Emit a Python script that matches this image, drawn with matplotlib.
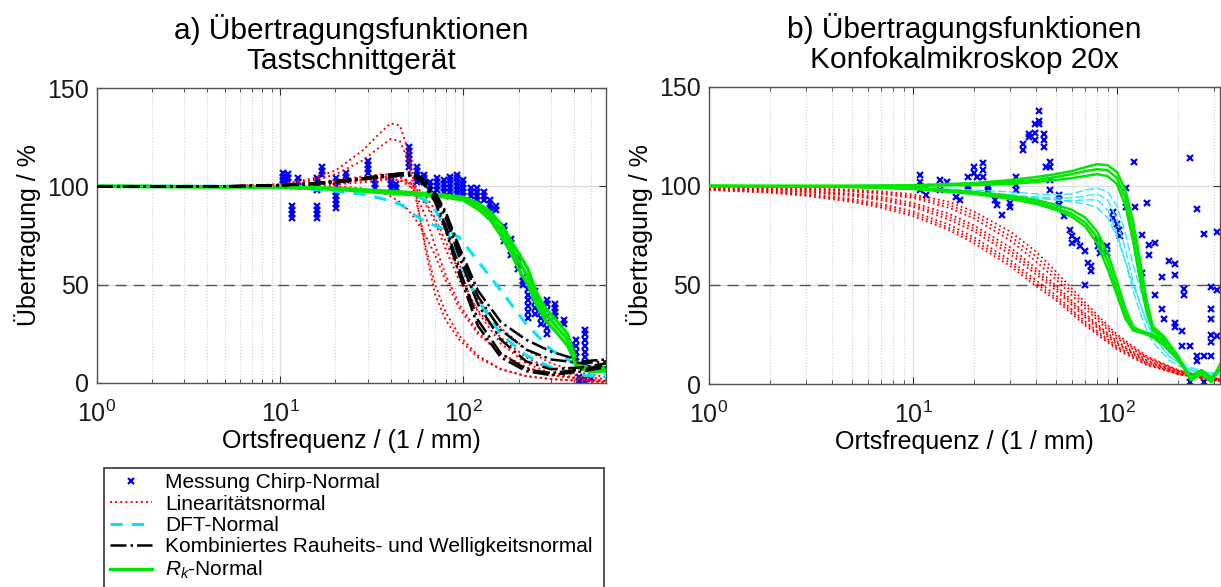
import numpy as np
import matplotlib
matplotlib.use("Agg")  # headless
import matplotlib.pyplot as plt
from matplotlib.patches import Rectangle
from matplotlib.ticker import LogLocator, NullFormatter

plt.rcParams["font.family"] = ["Liberation Sans", "DejaVu Sans"]
plt.rcParams["mathtext.fontset"] = "custom"
plt.rcParams["mathtext.rm"] = "Liberation Sans"
plt.rcParams["mathtext.it"] = "Liberation Sans:italic"

# ---------------------------------------------------------------- a) Tastschnittgerät
a_xlim = (1, 600)

# Messung Chirp-Normal (Ortsfrequenz, Übertragung)
a_meas_f = [10.3, 10.3, 10.3, 10.3, 11.0, 11.0, 11.0, 11.0, 11.6, 11.6, 11.6, 11.6,
            12.5, 12.5, 12.5, 15.9, 15.9, 15.9, 15.9, 15.9, 15.9, 15.9, 15.9,
            17, 17, 17, 20.2, 20.2, 20.2, 20.2, 20.2, 20.2, 20.2, 20.2,
            23, 23, 23, 30, 30, 30, 30, 33, 33, 33, 40, 40, 40, 40, 43, 43, 43,
            50.5, 50.5, 50.5, 50.5, 50.5, 50.5, 56, 56, 56, 56, 56, 61, 61, 61,
            66, 66, 66, 66, 72, 72, 72, 72, 78, 78, 78, 78,
            85, 85, 85, 85, 85, 85, 92, 92, 92, 92, 92, 92, 100, 100, 100, 100, 100,
            110, 110, 110, 118, 118, 118, 118, 118, 130, 130, 130,
            140, 140, 140, 140, 140, 150, 150, 166, 166, 166, 166, 166,
            182, 182, 182, 182, 182, 198, 198, 198, 198, 212, 212, 212,
            224, 224, 224, 224, 224, 224, 245, 245, 245, 245, 245, 265, 265, 265,
            287, 287, 287, 287, 287, 287, 287, 315, 315, 315, 315, 356, 356, 390, 390,
            412, 412, 412, 412, 458, 458, 458, 458, 458, 458, 458, 430, 430, 460, 460, 500]
a_meas_v = [101, 103, 105, 107, 100, 102, 104, 106.5, 84, 86, 88, 90,
            100, 102, 104, 98, 100, 102, 104, 84, 86, 88, 90,
            106, 108, 110, 89, 91, 93, 95, 97, 100, 102, 104,
            103, 105, 107, 107, 109, 111, 113, 99, 101, 103, 99, 101, 103, 105, 97, 99, 101,
            110, 112, 114, 116, 118, 120, 102, 104, 106, 108, 110, 102, 104, 106,
            96, 98, 100, 102, 98, 100, 102, 104, 97, 99, 101, 103,
            95, 97, 99, 101, 103, 105, 96, 98, 100, 102, 104, 106, 95, 97, 99, 101, 103,
            95, 97, 99, 91, 93, 95, 97, 99, 93, 95, 97,
            85, 87, 89, 91, 93, 88, 90, 72, 74, 76, 78, 80,
            65, 67, 69, 71, 73, 58, 60, 62, 64, 50, 52, 54,
            33, 36, 39, 42, 45, 48, 35, 38, 41, 44, 47, 30, 33, 36,
            25, 28, 31, 34, 37, 40, 42, 34, 36, 38, 40, 30, 32, 18, 20,
            13, 16, 19, 22, 10, 13, 16, 19, 22, 25, 27, 1, 3, 0, 2, 2]

a_grid_f = [1, 5, 10, 15, 20, 28, 35, 40, 45, 50, 55, 62, 70, 80, 95, 120, 160, 220, 300, 450, 600]

# Linearitätsnormal
a_lin = [
    [100, 100, 101, 104, 108, 118, 127, 132, 131, 118, 96, 68, 45, 32, 22, 13, 7, 3.5, 2, 1, 0.5],
    [100, 100, 101, 103, 106, 113, 120, 124, 123, 113, 94, 70, 50, 36, 24, 14, 7, 3.5, 2, 1, 0.5],
    [100, 100, 100.5, 101.5, 103, 105, 106, 106, 105, 102, 96, 85, 70, 55, 40, 26, 15, 8, 4, 2, 1],
    [100, 100, 100, 101, 102, 103, 104, 104, 103, 100.5, 97, 91, 82, 68, 52, 37, 23, 13, 7, 3, 2],
    [100, 100, 100, 100, 100, 99, 97, 95, 92, 88, 83, 75, 65, 52, 38, 25, 15, 8, 4, 2, 1],
    [100, 100, 100, 100.5, 101, 102, 103, 103.5, 103, 102, 100, 95, 88, 77, 60, 42, 28, 17, 10, 5, 3],
    [100, 100, 100.5, 101, 102, 103.5, 104.5, 105, 104.5, 103, 99, 92, 84, 72, 56, 36, 20, 10, 5, 2, 1],
]

# DFT-Normal
a_dft = [
    [100, 100, 99.5, 98.5, 97.5, 96, 94, 92.5, 91, 88, 85, 82, 80, 78, 74, 62, 47, 30, 17, 7, 4],
    [100, 100, 99.8, 99.3, 98.8, 98, 97.5, 97, 96.5, 96, 95, 93, 88, 79, 62, 42, 25, 14, 8, 4, 3],
]

# Kombiniertes Rauheits- und Welligkeitsnormal
a_komb = [
    [100, 100, 100.5, 101.5, 102.5, 104, 105, 106, 106.5, 106.5, 105, 101, 93, 80, 58, 32, 15, 7, 5, 7, 9],
    [100, 100, 100.5, 101.5, 102.5, 104, 105, 105.5, 106, 106, 105, 102, 95, 84, 64, 40, 22, 11, 7, 8, 10],
    [100, 100, 100.5, 101.5, 102.5, 104, 105.5, 106, 106.5, 107, 106, 103, 97, 87, 69, 47, 31, 22, 16, 11, 12],
    [100, 100, 100.5, 101, 102, 103.5, 104.5, 105, 105.5, 105.5, 104.5, 100, 92, 78, 55, 29, 13, 6, 4, 6, 8],
    [100, 100, 100.5, 101.5, 102.5, 104, 105, 105.5, 106, 106, 105.5, 102.5, 96, 86, 67, 44, 27, 17, 12, 10, 11],
]

# Rk-Normal
a_rk_f = [1, 10, 20, 40, 60, 80, 100, 120, 140, 160, 180, 200, 225, 250, 280, 320, 370, 420, 480, 600]
a_rk = [
    [100, 99.8, 99, 97.5, 96.5, 95.5, 94.5, 91.5, 87, 81, 73, 66, 58, 46, 38, 32, 25, 9, 8, 8],
    [100, 99.7, 98.8, 97, 96, 95, 93.8, 90, 85, 78, 70, 62, 54, 43, 35, 29, 22, 8, 7, 7],
    [100, 99.6, 98.5, 96.5, 95.5, 94.5, 93, 88.5, 83, 75, 67, 58, 50, 40, 32, 26, 19, 8, 6, 6],
]

# ---------------------------------------------------------------- b) Konfokalmikroskop 20x
b_xlim = (1, 320)

b_meas_f = [10.8, 10.8, 10.8, 11.6, 11.6, 13.5, 13.5, 14.6, 16.3, 17, 18.6, 18.6, 18.6,
            20, 20, 20.5, 22, 22, 22, 23.4, 23.4, 25.2, 25.7, 27.2, 29.9, 29.9,
            32, 32, 32, 34.7, 34.7, 37, 37, 39.5, 39.5, 39.5, 41.5, 41.5, 41.5,
            44, 44, 44, 45, 47, 47, 47, 47, 51.7, 51.7, 51.7, 54.7, 58.8, 60, 60,
            64, 66, 70, 70, 72, 75, 75, 81, 81, 83, 89, 89, 96, 96, 100, 102, 104,
            111, 111, 121, 123, 132, 132, 140, 143, 143, 154, 154, 166, 166, 170, 180,
            193, 193, 193, 193, 209, 209, 213, 213, 229, 229, 229, 246, 246, 246,
            267, 267, 267, 288, 288, 288, 288, 288, 288, 310, 310, 310]
b_meas_v = [105.5, 102, 98, 99.7, 95.5, 103, 98, 102, 94.6, 93, 104.7, 99.7, 98,
            109.7, 106.4, 104.7, 111.4, 108, 104.7, 99.7, 98, 93, 90.5, 85.4, 91.3, 89.6,
            104.7, 100.5, 98, 118, 121, 126.5, 124.8, 131.5, 127, 123, 138, 131.5, 133,
            126.5, 119.8, 123, 109.7, 112, 109.7, 103, 98, 95.5, 93, 90.5, 84.6, 77.9, 74.5, 71,
            72.9, 69.5, 67, 50, 61, 59.5, 57, 72.9, 69.5, 66, 69.5, 66, 87, 83.8, 81, 78, 74.5,
            98.8, 89.6, 112, 89.6, 75.4, 56, 91.3, 70.4, 65.3, 71, 45, 54, 37.7, 32.7, 62,
            60.5, 55, 31, 29, 27, 19, 45, 48, 114, 19, 1, 88.4, 14, 11.7,
            76, 14, 1, 49, 37.7, 32.7, 25, 21, 14, 77, 47.7, 24]

b_lin_f = [1, 2, 3, 5, 7, 10, 15, 20, 30, 40, 50, 70, 100, 140, 200, 260, 320]
b_lin = [
    [99.5, 99.2, 98.8, 98.2, 97.3, 95.8, 92.0, 87.0, 77.0, 67.0, 57.0, 41.0, 25.0, 14.0, 7.0, 4.0, 2.5],
    [99.4, 99.0, 98.5, 97.7, 96.6, 94.8, 90.5, 85.2, 74.7, 64.5, 55.0, 39.5, 24.0, 13.5, 6.8, 4.0, 2.5],
    [99.3, 98.8, 98.3, 97.3, 96.0, 94.0, 89.0, 83.5, 72.5, 62.0, 53.0, 38.0, 23.0, 13.0, 6.5, 4.0, 2.5],
    [99.0, 98.4, 97.6, 96.2, 94.5, 91.5, 86.0, 80.0, 69.0, 58.5, 50.0, 35.5, 21.5, 12.0, 6.0, 3.5, 2.0],
    [98.9, 98.1, 97.2, 95.6, 93.6, 90.4, 84.5, 78.5, 67.2, 57.0, 48.7, 34.5, 20.8, 11.5, 5.8, 3.5, 2.0],
    [98.8, 97.9, 96.9, 95.0, 92.8, 89.5, 83.0, 77.0, 65.5, 55.5, 47.5, 33.5, 20.0, 11.0, 5.5, 3.5, 2.0],
    [98.5, 97.3, 96.0, 93.6, 91.0, 87.2, 80.5, 74.0, 62.5, 52.5, 45.0, 31.5, 19.0, 10.5, 5.0, 3.0, 1.5],
    [98.2, 96.9, 95.5, 92.8, 90.0, 86.0, 79.0, 72.5, 61.0, 51.0, 43.7, 30.5, 18.2, 10.0, 5.0, 3.0, 1.5],
    [98.0, 96.6, 95.0, 92.0, 89.0, 84.8, 77.8, 71.0, 59.5, 49.5, 42.5, 29.5, 17.5, 9.5, 5.0, 3.0, 1.5],
]

b_dft_f = [1, 5, 10, 15, 20, 30, 40, 50, 60, 70, 80, 90, 100, 110, 120, 135, 150, 180, 220, 270, 320]
b_dft = [
    [100, 99.5, 99, 98, 97, 95.5, 94.5, 94, 94, 95, 96, 93, 83, 68, 52, 35, 24, 14, 8, 6, 5],
    [100, 99.5, 98.5, 97.5, 96.5, 95, 94, 93, 92.5, 93, 93, 88, 76, 62, 47, 31, 21, 12, 7, 5, 4],
    [100, 99.8, 99.2, 98.5, 98, 97, 96, 95.5, 96, 98, 99, 97, 90, 76, 60, 42, 28, 16, 9, 6, 5],
    [100, 99.5, 98.8, 97.8, 97, 95.5, 94, 93, 92, 91, 89, 84, 74, 62, 50, 36, 25, 14, 8, 5, 4],
]

b_rk_f = [1, 5, 10, 20, 30, 40, 50, 60, 70, 80, 90, 100, 110, 120, 130, 140, 150, 170, 200, 230, 260, 290, 320]
b_rk = [
    [100, 100, 100.3, 101.5, 103, 104.5, 106, 107.5, 109.5, 111, 110.5, 107, 98, 82, 62, 42, 29, 24, 14, 2, 5, 1, 10],
    [100, 100, 100.2, 101, 102, 103, 104.5, 106, 107.5, 108.5, 108, 104, 94, 76, 56, 38, 28, 23, 13, 3, 6, 2, 9],
    [100, 100, 100.1, 100.5, 101, 102, 103, 104, 105, 106, 105, 101, 90, 72, 52, 36, 27, 22, 12, 4, 7, 3, 8],
    [100, 99.7, 99, 97, 95, 93, 90.5, 88, 84, 77, 66, 52, 38, 29, 27, 26, 25, 21, 13, 2, 5, 1, 9],
    [100, 99.6, 98.8, 96.5, 94.3, 92, 89, 86, 81.5, 74, 62, 48, 35, 28, 26.5, 25.5, 24, 20, 12, 3, 6, 2, 8],
    [100, 99.5, 98.5, 96, 93.5, 91, 88, 84.5, 79.5, 71, 58, 45, 33, 27, 26, 25, 23.5, 19.5, 12, 4, 7, 3, 7],
]

ref_level = 50
y_ticks = [0, 50, 100, 150]

titles = ["a) Übertragungsfunktionen\nTastschnittgerät",
          "b) Übertragungsfunktionen\nKonfokalmikroskop 20x"]
labels = ["Messung Chirp-Normal", "Linearitätsnormal", "DFT-Normal",
          "Kombiniertes Rauheits- und Welligkeitsnormal", "$R_k$-Normal"]

FS = 18
fig = plt.figure(figsize=(12.21, 5.87), dpi=100)
W, H = 1221, 587
ax_a = fig.add_axes([97 / W, 1 - 383 / H, 509 / W, 295 / H])
ax_b = fig.add_axes([709 / W, 1 - 384 / H, 511 / W, 297 / H])


def style_axes(ax, xlim, title):
    ax.set_xscale("log")
    ax.set_xlim(*xlim)
    ax.set_ylim(0, 150)
    ax.set_yticks(y_ticks)
    ax.xaxis.set_major_locator(LogLocator(base=10))
    ax.xaxis.set_minor_locator(LogLocator(base=10, subs=np.arange(2, 10)))
    ax.xaxis.set_minor_formatter(NullFormatter())
    ax.grid(True, which="major", color="#dcdcdc", lw=0.9, ls="-")
    ax.grid(True, which="minor", axis="x", color="#cfcfcf", lw=0.8, ls=":")
    ax.set_axisbelow(True)
    ax.tick_params(which="both", direction="in", top=True, right=True,
                   colors="#333333", labelcolor="#1a1a1a", labelsize=FS)
    ax.tick_params(which="major", length=5)
    ax.tick_params(which="minor", length=3)
    ax.tick_params(axis="x", which="major", pad=13)
    ax.tick_params(axis="y", which="major", pad=6)
    for s in ax.spines.values():
        s.set_color("#555555")
        s.set_linewidth(1.0)
    ax.axhline(ref_level, color="#555555", lw=1.0, ls=(0, (8, 5)), zorder=1)
    ax.set_xlabel("Ortsfrequenz / (1 / mm)", fontsize=FS, labelpad=1)
    ax.set_ylabel("Übertragung / %", fontsize=FS, labelpad=4)
    ax.set_title(title, fontsize=21.5, pad=13.5, linespacing=1.1)


style_axes(ax_a, a_xlim, titles[0])
style_axes(ax_b, b_xlim, titles[1])

# a)
h_meas, = ax_a.plot(a_meas_f, a_meas_v, ls="none", marker="x", ms=4, mew=1.6, color="#0000ff", zorder=2)
for v in a_lin:
    h_lin, = ax_a.plot(a_grid_f, v, color="#ff0000", ls=":", lw=1.4, zorder=3)
for v in a_dft:
    h_dft, = ax_a.plot(a_grid_f, v, color="#00e5ff", ls=(0, (4, 3)), lw=2.2, zorder=3)
for v in a_rk:
    h_rk, = ax_a.plot(a_rk_f, v, color="#00e600", ls="-", lw=2.4, zorder=4)
for v in a_komb:
    h_komb, = ax_a.plot(a_grid_f, v, color="#000000", ls="-.", lw=1.8, zorder=5)

# b)
ax_b.plot(b_meas_f, b_meas_v, ls="none", marker="x", ms=4, mew=1.6, color="#0000ff", zorder=2)
for v in b_lin:
    ax_b.plot(b_lin_f, v, color="#ff0000", ls=":", lw=1.3, zorder=3)
for v in b_dft:
    ax_b.plot(b_dft_f, v, color="#33e6ff", ls=(0, (6, 2)), lw=1.0, zorder=3)
for v in b_rk:
    ax_b.plot(b_rk_f, v, color="#00e600", ls="-", lw=1.8, zorder=4)

# Legende
fig.legend([h_meas, h_lin, h_dft, h_komb, h_rk], labels,
           loc="upper left", bbox_to_anchor=(110 / W, 1 - 473 / H),
           frameon=False, fontsize=15, handlelength=2.0, handletextpad=0.65,
           labelspacing=0.12, borderpad=0.0, borderaxespad=0.0)
fig.patches.append(Rectangle((104 / W, -0.05), 500 / W, 1 - 468 / H + 0.05,
                             transform=fig.transFigure, fill=False,
                             edgecolor="#333333", lw=1.2))

fig.savefig("out.png", dpi=100)
